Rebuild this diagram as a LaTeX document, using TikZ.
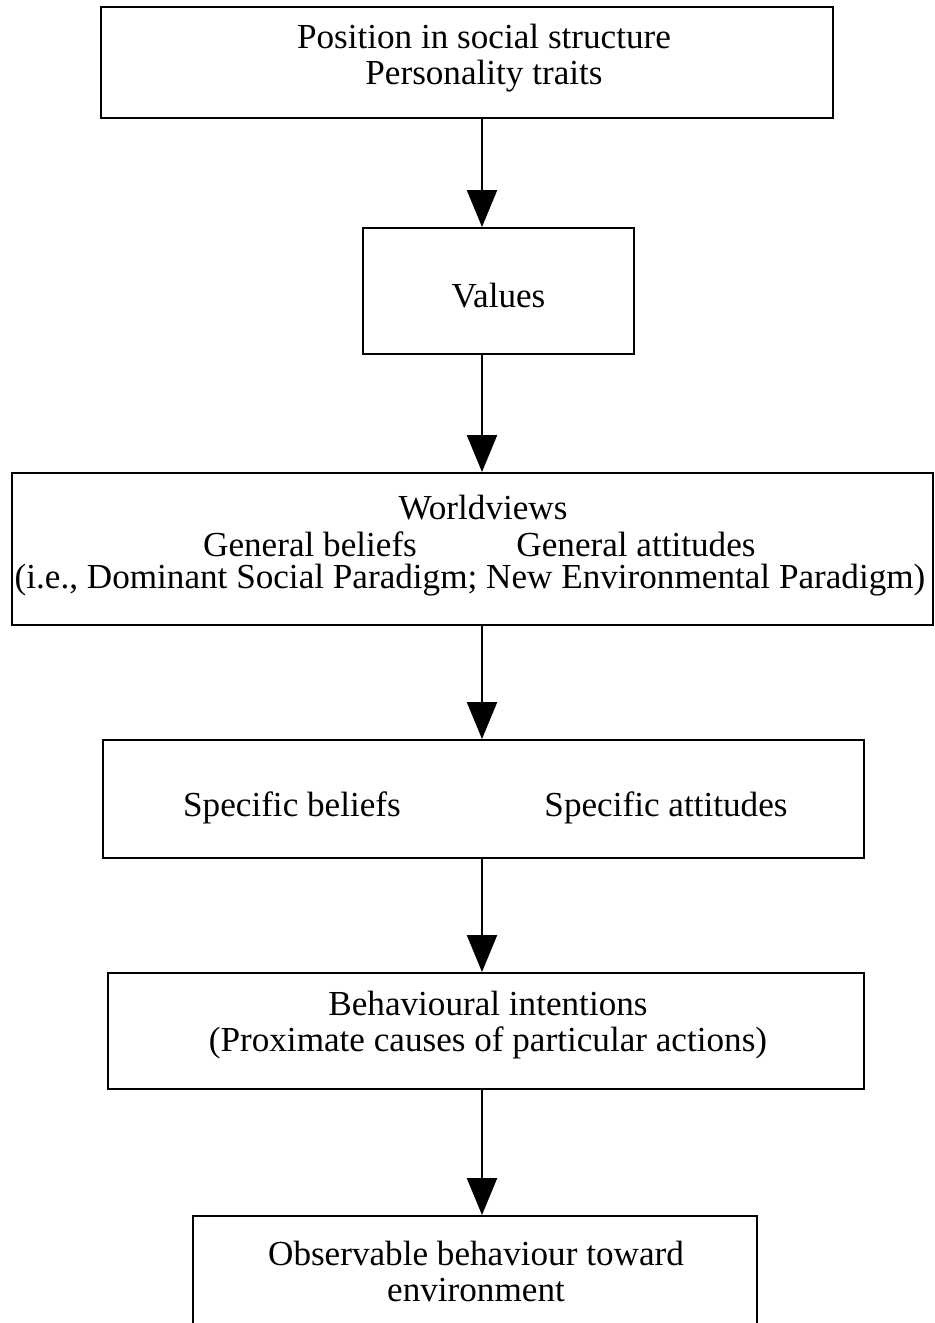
\documentclass[tikz,border=0pt]{standalone}
\usepackage{fontspec}
\setmainfont{Liberation Serif}
\usetikzlibrary{arrows.meta, positioning}

\tikzset{
    stage/.style={draw, line width=1.1pt, rectangle, inner sep=0pt},
    caption/.style={align=center, inner sep=0pt, font=\fontsize{20}{20.5}\selectfont},
    flow/.style={line width=1.3pt, -{Triangle[length=0.74cm, width=0.6cm]}}
}

\begin{document}
\begin{tikzpicture}
    % 1. Page frame (bottom box runs off the page)
    \useasboundingbox (0,0) rectangle (18.7,-26.46);
    \clip (0,0) rectangle (18.7,-26.46);

    % 2. Boxes
    \node[stage, minimum width=14.64cm, minimum height=2.22cm] (social) at (9.34,-1.25) {};
    \node[stage, minimum width=5.42cm, minimum height=2.52cm] (values) at (9.97,-5.82) {};
    \node[stage, minimum width=18.42cm, minimum height=3.04cm] (world) at (9.45,-10.98) {};
    \node[stage, minimum width=15.22cm, minimum height=2.36cm] (specific) at (9.67,-15.98) {};
    \node[stage, minimum width=15.12cm, minimum height=2.32cm] (intent) at (9.72,-20.62) {};
    \node[stage, minimum width=11.28cm, minimum height=2.9cm] (behav) at (9.5,-25.77) {};

    % 3. Texts
    \node[caption] (socialtxt) at (9.68,-1.16) {Position in social structure\\Personality traits};
    \node[caption] (valuestxt) at (9.97,-5.92) {Values};
    \node[caption] (worldtxt) at (9.66,-10.16) {Worldviews};
    \node[caption] (genbel) at (6.2,-10.88) {General beliefs};
    \node[caption] (genatt) at (12.72,-10.88) {General attitudes};
    \node[caption] (paradigm) at (9.4,-11.6) {(i.e., Dominant Social Paradigm; New Environmental Paradigm)};
    \node[caption] (specbel) at (5.84,-16.16) {Specific beliefs};
    \node[caption] (specatt) at (13.32,-16.16) {Specific attitudes};
    \node[caption] (intenttxt) at (9.76,-20.5) {Behavioural intentions\\(Proximate causes of particular actions)};
    \node[caption] (behavtxt) at (9.52,-25.43) {Observable behaviour toward\\environment};

    % 4. Arrows down the chain
    \coordinate (axis) at (9.64,0);
    \draw[flow] (axis |- social.south) -- (axis |- values.north);
    \draw[flow] (axis |- values.south) -- (axis |- world.north);
    \draw[flow] (axis |- world.south) -- (axis |- specific.north);
    \draw[flow] (axis |- specific.south) -- (axis |- intent.north);
    \draw[flow] (axis |- intent.south) -- (axis |- behav.north);
\end{tikzpicture}
\end{document}
